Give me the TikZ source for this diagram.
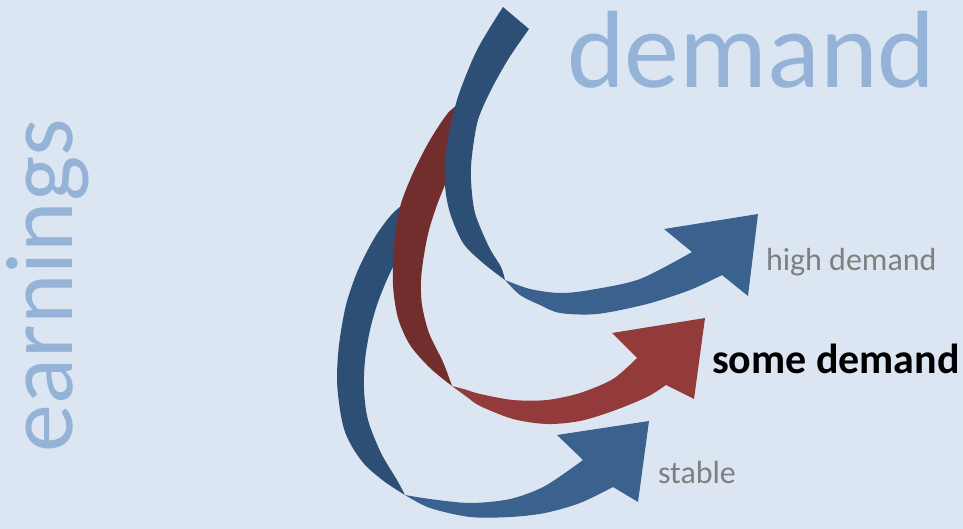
\documentclass[tikz,border=0pt]{standalone}
\usepackage{fontspec}
\setmainfont{Carlito}
\definecolor{bgc}{RGB}{220,230,242}
\definecolor{bdark}{RGB}{46,79,117}
\definecolor{blight}{RGB}{59,97,142}
\definecolor{rdark}{RGB}{114,46,44}
\definecolor{rlight}{RGB}{147,59,58}
\definecolor{titlec}{RGB}{149,179,215}
\definecolor{grayc}{RGB}{127,127,127}
\tikzset{
  lbl/.style={inner sep=0pt, outer sep=0pt, anchor=base west},
  bigtitle/.style={lbl, text=titlec, font=\fontsize{110}{112}\selectfont},
  sidetitle/.style={lbl, text=titlec, font=\fontsize{96}{98}\selectfont, rotate=90},
  graylbl/.style={lbl, text=grayc, font=\fontsize{32}{34}\selectfont},
  boldlbl/.style={lbl, text=black, font=\fontsize{42}{44}\selectfont\bfseries}
}
\begin{document}
\begin{tikzpicture}[x=1pt,y=-1pt]
\fill[bgc] (0,0) rectangle (963,529);
\useasboundingbox (0,0) rectangle (963,529);

% bottom blue arrow (stable)
\fill[bdark] plot[smooth] coordinates {(412,198) (393,213) (375,237) (358,270) (346,305) (339,345) (337,380) (340,410) (345,432) (354,450) (366,466) (385,482) (405,495)}
  -- plot[smooth] coordinates {(405,495) (397,480) (381,453) (368,420) (364,390) (365,360) (370,330) (378,302) (390,273) (405,246) (428,216)} -- cycle;
\fill[blight] plot[smooth] coordinates {(405,495) (430,499) (470,503) (510,499) (545,486) (583,460)}
  -- (557,435) -- (649,421) -- (638,502)
  -- plot[smooth] coordinates {(613,487) (580,503) (545,513) (510,517) (470,517) (430,508) (405,495)} -- cycle;

% red arrow (some demand)
\fill[rdark] plot[smooth] coordinates {(462,102) (448,113) (430,140) (413,173) (400,207) (394,245) (393,285) (398,318) (410,345) (430,368) (452,386)}
  -- plot[smooth] coordinates {(452,386) (443,362) (429,333) (422,305) (421,280) (424,255) (429,230) (437,205) (447,180) (460,152) (474,124)} -- cycle;
\fill[rlight] plot[smooth] coordinates {(452,386) (467,390) (480,394) (513,400) (547,400) (580,393) (613,379) (637,358)}
  -- (612,333) -- (705,318) -- (694,399)
  -- plot[smooth] coordinates {(666,385) (647,397) (613,411) (580,421) (547,424) (513,419) (480,406) (467,397) (452,386)} -- cycle;

% top blue arrow (high demand)
\fill[bdark] plot[smooth] coordinates {(503,7) (477,50) (457,100) (446,150) (445,185) (450,213) (463,243) (483,263) (505,280)}
  -- plot[smooth] coordinates {(505,280) (501,267) (489,247) (475,213) (471,180) (472,155) (478,120) (491,90) (509,58) (529,29)} -- cycle;
\fill[blight] plot[smooth] coordinates {(505,280) (530,289) (560,293) (590,290) (640,279) (692,252)}
  -- (664,229) -- (758,214) -- (748,296)
  -- plot[smooth] coordinates {(722,275) (690,290) (647,304) (597,314) (560,313) (540,305) (520,295) (505,280)} -- cycle;

% texts
\node[bigtitle] (demand) at (567,88) {demand};
\node[sidetitle] (earnings) at (72,452) {earnings};
\node[graylbl] (high) at (766,270) {high demand};
\node[boldlbl] (some) at (712,373) {some demand};
\node[graylbl] (stable) at (658,483) {stable};
\end{tikzpicture}
\end{document}
